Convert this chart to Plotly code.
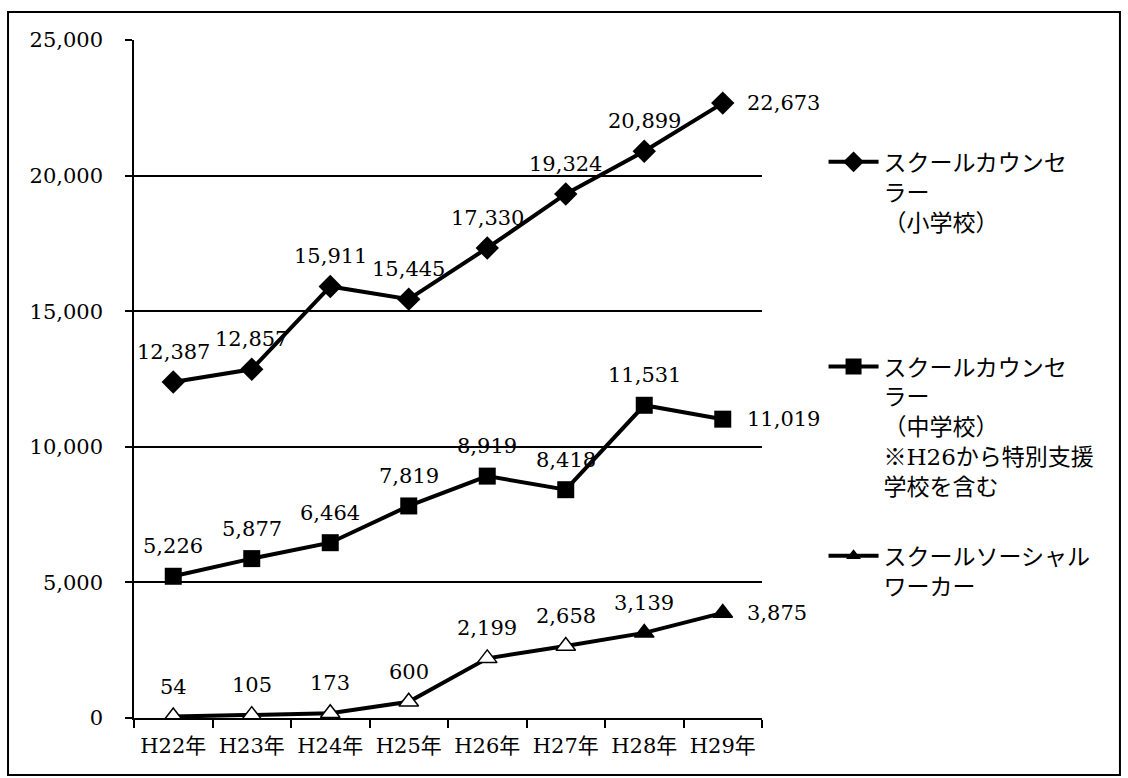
import plotly.graph_objects as go

# Fiscal years (Heisei era)
years = ["H22年", "H23年", "H24年", "H25年", "H26年", "H27年", "H28年", "H29年"]

# Number of schools covered, per service
sc_elementary = [12387, 12857, 15911, 15445, 17330, 19324, 20899, 22673]
sc_junior = [5226, 5877, 6464, 7819, 8919, 8418, 11531, 11019]
ssw = [54, 105, 173, 600, 2199, 2658, 3139, 3875]

# Legend names
name_elem = "スクールカウンセ<br>ラー<br>（小学校）"
name_junior = "スクールカウンセ<br>ラー<br>（中学校）<br>※H26から特別支援<br>学校を含む"
name_ssw = "スクールソーシャル<br>ワーカー"

NUM_FONT = "'DejaVu Serif', 'Noto Sans CJK JP', serif"
JP_FONT = "'DejaVu Serif', 'Noto Sans CJK JP', serif"

fig = go.Figure()

fig.add_trace(go.Scatter(
    x=years, y=sc_elementary, name=name_elem, legend="legend",
    mode="lines+markers",
    line=dict(color="black", width=4),
    marker=dict(symbol="diamond", size=18, color="black"),
))

fig.add_trace(go.Scatter(
    x=years, y=sc_junior, name=name_junior, legend="legend2",
    mode="lines+markers",
    line=dict(color="black", width=4),
    marker=dict(symbol="square", size=17, color="black"),
))

# Social worker line: early markers print hollow, later ones solid
tri_fill = ["white"] * 6 + ["black"] * 2
fig.add_trace(go.Scatter(
    x=years, y=ssw, name=name_ssw, legend="legend3", showlegend=False,
    mode="lines+markers",
    line=dict(color="black", width=4),
    marker=dict(symbol="triangle-up", size=17, color=tri_fill,
                line=dict(color="black", width=1.5)),
))
# legend-only entry with a solid triangle
fig.add_trace(go.Scatter(
    x=[None], y=[None], name=name_ssw, legend="legend3",
    mode="lines+markers",
    line=dict(color="black", width=4),
    marker=dict(symbol="triangle-up", size=13, color="black"),
))

# Value labels: above each point, the last one to the right
annotations = []
for series in (sc_elementary, sc_junior, ssw):
    n = len(series)
    for i, (yr, v) in enumerate(zip(years, series)):
        last = i == n - 1
        annotations.append(dict(
            x=yr, y=v, xref="x", yref="y", text=f"{v:,}", showarrow=False,
            xanchor="left" if last else "center",
            yanchor="middle" if last else "bottom",
            xshift=22 if last else 0, yshift=0 if last else 16,
            font=dict(family=NUM_FONT, size=21, color="black"),
        ))

fig.update_xaxes(
    type="category", range=[-0.5, 7.5],
    showline=True, linecolor="black", linewidth=1.5,
    ticks="outside", tickson="boundaries", ticklen=8, tickwidth=1.5, tickcolor="black",
    showgrid=False,
    tickfont=dict(family=JP_FONT, size=21, color="black"),
    ticklabelstandoff=8,
)
fig.update_yaxes(
    range=[0, 25000], tickvals=[0, 5000, 10000, 15000, 20000, 25000],
    tickformat=",",
    showline=True, linecolor="black", linewidth=1.5,
    ticks="outside", ticklen=7, tickwidth=1.5, tickcolor="black",
    showgrid=True, gridcolor="black", gridwidth=1.5,
    zeroline=False,
    tickfont=dict(family=NUM_FONT, size=21, color="black"),
    ticklabelstandoff=18,
)

legend_style = dict(
    font=dict(family=JP_FONT, size=23, color="black"),
    bgcolor="rgba(0,0,0,0)", itemwidth=50, valign="top",
    xanchor="left", yanchor="top", x=1.098,
)

fig.update_layout(
    width=1128, height=778,
    margin=dict(l=134, r=366, t=40, b=60),
    paper_bgcolor="white", plot_bgcolor="white",
    showlegend=True,
    legend=dict(**legend_style, y=0.852),
    legend2=dict(**legend_style, y=0.550),
    legend3=dict(**legend_style, y=0.271),
    annotations=annotations,
    shapes=[dict(
        type="rect", xref="paper", yref="paper",
        x0=-0.2006, x1=1.570, y0=-0.084, y1=1.0413,
        line=dict(color="black", width=2), fillcolor="rgba(0,0,0,0)",
    )],
)

fig.write_html("out.html")
